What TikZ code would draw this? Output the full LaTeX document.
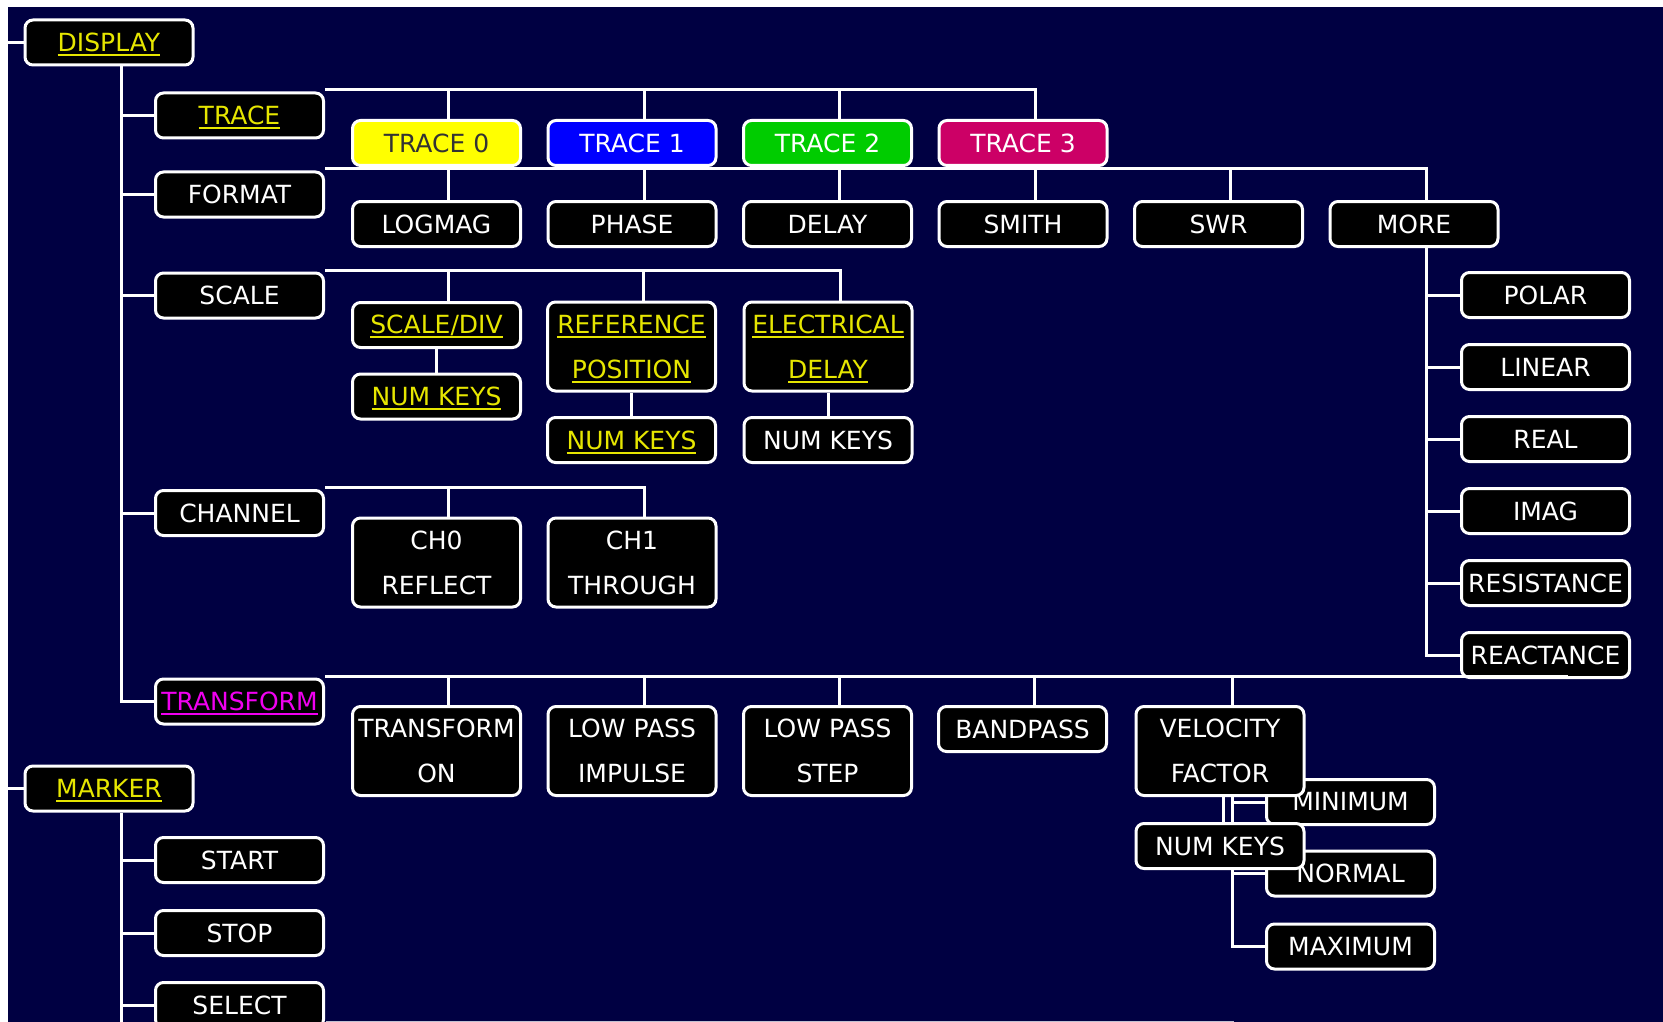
\documentclass[tikz,border=0pt]{standalone}
\usepackage{fontspec}
\setmainfont{DejaVu Sans}
\usetikzlibrary{positioning, backgrounds}
\definecolor{bgnavy}{HTML}{000042}
\definecolor{linkyellow}{HTML}{E6E600}
\definecolor{linkpink}{HTML}{F000F0}
\definecolor{tracezero}{HTML}{FFFF00}
\definecolor{traceone}{HTML}{0000FF}
\definecolor{tracetwo}{HTML}{00CC00}
\definecolor{tracethree}{HTML}{CC0066}
\definecolor{darktext}{HTML}{333333}
\newcommand{\menuline}[1]{\setbox0=\hbox{#1}\rlap{\raisebox{0pt}[0pt][0pt]{\rule[-4.5pt]{\wd0}{2pt}}}\box0}
\newcommand{\menulink}[1]{\textcolor{linkyellow}{\menuline{#1}}}

\begin{document}
\begin{tikzpicture}[x=1pt, y=-1pt]
    \tikzstyle{menu} = [rectangle, draw=white, line width=3pt, rounded corners=8pt, fill=black, text=white, minimum width=168pt, minimum height=45pt, inner sep=0pt, align=center, font=\fontsize{25}{45}\selectfont]
    \tikzstyle{tall} = [menu, minimum height=89pt]
    \tikzstyle{wire} = [draw=white, line width=3pt]

    \useasboundingbox (0,0) rectangle (1663,1022);
    \coordinate (dispin) at (8,42.5);
    \coordinate (markin) at (8,788.5);
    \coordinate (mkend) at (0,1026);
    \coordinate (tfend) at (1568,0);
    \coordinate (cutl) at (326,1021.5);
    \coordinate (cutr) at (1234,1021.5);

    % top level
    \node (display) [menu] at (109,42.5) {\menulink{DISPLAY}};
    \node (marker) [menu] at (109,788.5) {\menulink{MARKER}};

    % display menu
    \node (trace) [menu] at (239.5,115.5) {\menulink{TRACE}};
    \node (format) [menu] at (239.5,194.5) {FORMAT};
    \node (scale) [menu] at (239.5,295.5) {SCALE};
    \node (channel) [menu] at (239.5,513) {CHANNEL};
    \node (transform) [menu] at (239.5,701.5) {\textcolor{linkpink}{\menuline{TRANSFORM}}};

    % marker menu
    \node (start) [menu] at (239.5,860) {START};
    \node (stop) [menu, below=25pt of start] {STOP};
    \node (select) [menu, below=24pt of stop] {SELECT};

    % traces
    \node (trzero) [menu, fill=tracezero, text=darktext] at (436.5,143) {TRACE 0};
    \node (trone) [menu, fill=traceone, right=24.5pt of trzero] {TRACE 1};
    \node (trtwo) [menu, fill=tracetwo, right=24.5pt of trone] {TRACE 2};
    \node (trthree) [menu, fill=tracethree, right=24.5pt of trtwo] {TRACE 3};

    % formats
    \node (logmag) [menu] at (436.5,224) {LOGMAG};
    \node (phase) [menu, right=24.5pt of logmag] {PHASE};
    \node (delay) [menu, right=24.5pt of phase] {DELAY};
    \node (smith) [menu, right=24.5pt of delay] {SMITH};
    \node (swr) [menu, right=24.5pt of smith] {SWR};
    \node (more) [menu, right=24.5pt of swr] {MORE};

    \node (polar) [menu] at (1545.5,295) {POLAR};
    \node (linear) [menu, below=24pt of polar] {LINEAR};
    \node (real) [menu, below=24pt of linear] {REAL};
    \node (imag) [menu, below=24pt of real] {IMAG};
    \node (resist) [menu, below=24pt of imag] {RESISTANCE};
    \node (react) [menu, below=24pt of resist] {REACTANCE};

    % scale
    \node (scalediv) [menu] at (436.5,325) {\menulink{SCALE/DIV}};
    \node (scalenum) [menu, below=23.5pt of scalediv] {\menulink{NUM KEYS}};
    \node (refpos) [tall] at (631.5,346.5) {\menulink{REFERENCE}\\\menulink{POSITION}};
    \node (refnum) [menu, below=23.5pt of refpos] {\menulink{NUM KEYS}};
    \node (eldelay) [tall] at (828,346.5) {\menulink{ELECTRICAL}\\\menulink{DELAY}};
    \node (elnum) [menu, below=23.5pt of eldelay] {NUM KEYS};

    % channel
    \node (chzero) [tall] at (436.5,562.5) {CH0\\REFLECT};
    \node (chone) [tall, right=24.5pt of chzero] {CH1\\THROUGH};

    % transform
    \node (tfon) [tall] at (436.5,751) {TRANSFORM\\ON};
    \node (lpimp) [tall, right=24.5pt of tfon] {LOW PASS\\IMPULSE};
    \node (lpstep) [tall, right=24.5pt of lpimp] {LOW PASS\\STEP};
    \node (bandpass) [menu] at (1022.5,729) {BANDPASS};
    \node (minimum) [menu] at (1350.5,802) {MINIMUM};
    \node (normal) [menu] at (1350.5,873.5) {NORMAL};
    \node (maximum) [menu] at (1350.5,946.5) {MAXIMUM};
    \node (velfac) [tall] at (1220,751) {VELOCITY\\FACTOR};
    \node (vfnum) [menu, below=25pt of velfac] {NUM KEYS};

    \begin{scope}[on background layer]
        \fill[white] (0,0) rectangle (1663,1022);
        \fill[bgnavy] (8,7) rectangle (1663,1022);

        \draw[wire] (dispin) -- (display.west);
        \draw[wire] (markin) -- (marker.west);

        % display trunk
        \draw[wire] ([xshift=12pt]display.south) |- (transform.west);
        \foreach \m in {trace,format,scale,channel}
            \draw[wire] ([xshift=12pt]display.south |- \m.west) -- (\m.west);

        % marker trunk
        \draw[wire] ([xshift=12pt]marker.south) -- ([xshift=12pt]marker.south |- mkend);
        \foreach \m in {start,stop,select}
            \draw[wire] ([xshift=12pt]marker.south |- \m.west) -- (\m.west);
        \draw[white!75!bgnavy, line width=1pt] (cutl) -- (cutr);

        % trace row
        \draw[wire] ([yshift=1.5pt]trace.north east) -| ([xshift=12pt]trthree.north);
        \foreach \c in {trzero,trone,trtwo}
            \draw[wire] ([xshift=12pt]\c.north) -- ([xshift=12pt,yshift=1.5pt]\c.north |- trace.north east);

        % format row
        \draw[wire] ([yshift=1.5pt]format.north east) -| ([xshift=12pt]more.north);
        \foreach \c in {logmag,phase,delay,smith,swr}
            \draw[wire] ([xshift=12pt]\c.north) -- ([xshift=12pt,yshift=1.5pt]\c.north |- format.north east);
        \draw[wire] ([xshift=12pt]more.south) |- (react.west);
        \foreach \c in {polar,linear,real,imag,resist}
            \draw[wire] ([xshift=12pt]more.south |- \c.west) -- (\c.west);

        % scale row
        \draw[wire] ([yshift=1.5pt]scale.north east) -| ([xshift=12pt]eldelay.north);
        \foreach \c in {scalediv,refpos}
            \draw[wire] ([xshift=12pt]\c.north) -- ([xshift=12pt,yshift=1.5pt]\c.north |- scale.north east);
        \draw[wire] (scalediv.south) -- (scalenum.north);
        \draw[wire] (refpos.south) -- (refnum.north);
        \draw[wire] (eldelay.south) -- (elnum.north);

        % channel row
        \draw[wire] ([yshift=1.5pt]channel.north east) -| ([xshift=12pt]chone.north);
        \draw[wire] ([xshift=12pt]chzero.north) -- ([xshift=12pt,yshift=1.5pt]chzero.north |- channel.north east);

        % transform row
        \foreach \c in {tfon,lpimp,lpstep,bandpass,velfac}
            \draw[wire] ([xshift=12pt]\c.north) -- ([xshift=12pt,yshift=1.5pt]\c.north |- transform.north east);
        \draw[wire] ([xshift=3pt]velfac.south) -- ([xshift=3pt]vfnum.north);
        \draw[wire] ([xshift=12pt]velfac.south) |- (maximum.west);
        \foreach \c in {minimum,normal}
            \draw[wire] ([xshift=12pt]velfac.south |- \c.west) -- (\c.west);
    \end{scope}

    % transform line runs across the reactance box
    \draw[wire] ([yshift=1.5pt]transform.north east) -- ([yshift=1.5pt]transform.north east -| tfend);
\end{tikzpicture}
\end{document}
